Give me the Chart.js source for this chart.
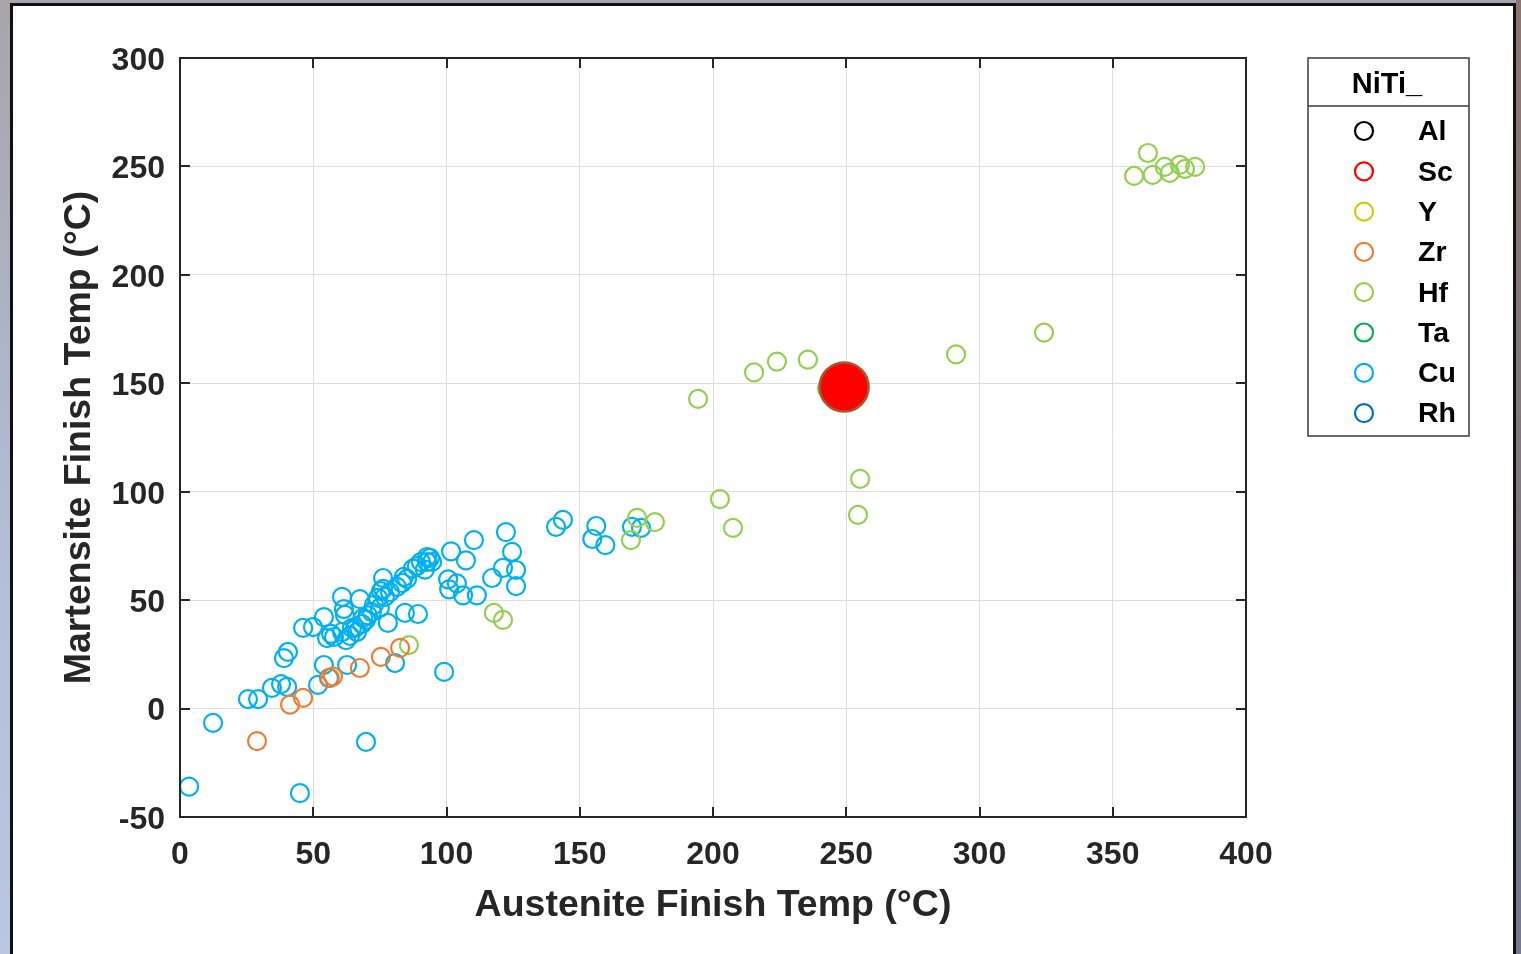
<!DOCTYPE html>
<html>
<head>
<meta charset="utf-8">
<title>NiTi transformation temperatures</title>
<script src="https://cdn.jsdelivr.net/npm/chart.js@4.4.1/dist/chart.umd.min.js"></script>
<style>
    html, body {
        margin: 0;
        padding: 0;
        width: 1521px;
        height: 954px;
        overflow: hidden;
    }
    body {
        position: relative;
        background: linear-gradient(to bottom, #a7a4ab 0%, #b2bfd9 60%, #b9c7e2 100%);
    }
    .edge-right {
        position: absolute;
        left: 1516px;
        top: 0;
        width: 5px;
        height: 954px;
        background: linear-gradient(to bottom, #8b7771 0%, #757a8c 100%);
    }
    .panel {
        position: absolute;
        left: 10px;
        top: 3px;
        width: 1506px;
        height: 960px;
        box-sizing: border-box;
        background: #fff;
        border: 3px solid #111;
    }
    #myChart {
        position: absolute;
        left: 0;
        top: 0;
    }
</style>
</head>
<body>
<div class="edge-right"></div>
<div class="panel"></div>
<canvas id="myChart" width="1521" height="954"></canvas>

<script>
    /**
     * Data
     *
     * - Austenite finish (Af) / martensite finish (Mf) per alloy, in °C
     * - Axis ticks
     */

    var seriesNames = ['Al', 'Sc', 'Y', 'Zr', 'Hf', 'Ta', 'Cu', 'Rh'];

    var alAf = [];
    var alMf = [];

    var scAf = [249.2];
    var scMf = [148.3];

    var yAf = [];
    var yMf = [];

    var zrAf = [28.9, 41.3, 46.2, 56.2, 57.4, 67.5, 75.4, 82.6];
    var zrMf = [-15, 1.8, 4.9, 14.1, 14.8, 18.7, 23.8, 28];

    var hfAf = [85.9, 117.8, 121.2, 169.2, 171.5, 178.2, 194.4, 202.6, 207.5, 215.4, 224, 235.6, 242.8,
        254.4, 255.2, 291.2, 324.2, 358, 363.2, 365, 369.5, 371.4, 375.2, 377.1, 380.9];
    var hfMf = [29.3, 44.1, 40.9, 77.7, 87.9, 86, 142.8, 96.6, 83.3, 155, 160, 160.9, 147.5,
        89.3, 105.9, 163.3, 173.4, 245.6, 256.2, 246.1, 249.8, 247, 250.7, 248.9, 249.8];

    var taAf = [];
    var taMf = [];

    var cuAf = [3.4, 12.4, 45, 69.8, 25.5, 29.3, 34.5, 37.9, 40.2, 39, 40.5, 46.2, 49.9, 54, 55.2, 56.7,
        57.8, 60.8, 61.5, 61.9, 60.8, 62.3, 63.8, 65.7, 66.4, 67.5, 68.3, 69.8, 72, 72.8, 74.3, 75,
        75.4, 76.2, 76.2, 76.9, 78, 81.4, 83.3, 84, 85.2, 84.4, 89.3, 88.9, 90.4, 91.9, 92.7, 93.8,
        94.6, 54, 55.9, 51.8, 62.7, 80.7, 99.1, 101.7, 100.6, 101, 103.9, 106.2, 107.3, 110.3, 111.4,
        117.1, 121.2, 122.3, 124.6, 126.1, 126.1, 141.1, 143.7, 156.2, 154.7, 159.6, 169.6, 173,
        64.5, 68.7, 78.8, 70.5, 87.4, 92.7];
    var cuMf = [-36, -6.6, -39, -15.4, 4.4, 4.4, 9.5, 11.3, 10, 23.3, 26.1, 37.2, 37.6, 42.2, 32.5, 34.4,
        33, 51.5, 45.9, 43.2, 35.3, 31.6, 33.5, 37.2, 35.3, 50.5, 39, 40.9, 44.5, 47.8, 51, 46.4,
        54.2, 60.2, 55.2, 51.5, 39.5, 56.1, 57.9, 60.7, 59.8, 44.1, 43.6, 65.7, 67.6, 64.1, 67.6, 69.5,
        67.6, 20.1, 14.1, 10.9, 20.1, 21, 16.9, 72.5, 59.6, 55, 57.7, 52.2, 68.3, 77.7, 52.2,
        60.2, 64.9, 81.4, 72.3, 63.9, 56.5, 83.8, 87, 84.2, 78.2, 75.4, 83.8, 83.3,
        37.2, 41.8, 53.7, 43, 64.5, 69.9];

    var rhAf = [];
    var rhMf = [];

    var xTicks = [0, 50, 100, 150, 200, 250, 300, 350, 400];
    var yTicks = [-50, 0, 50, 100, 150, 200, 250, 300];

    /**
     * Styles
     */

    var FONT = '"Liberation Sans", Arial, Helvetica, sans-serif';
    var INK = '#262626';

    var seriesColors = {
        Al: '#000000',
        Sc: '#ff0000',
        Y: '#d5c900',
        Zr: '#ed7d31',
        Hf: '#92d050',
        Ta: '#00b050',
        Cu: '#00b0f0',
        Rh: '#0070c0'
    };

    function toPoints(xs, ys) {
        var pts = [];
        for (var i = 0; i < xs.length; i++) {
            pts.push({x: xs[i], y: ys[i]});
        }
        return pts;
    }

    function ringSet(name, xs, ys) {
        return {
            label: name,
            data: toPoints(xs, ys),
            pointStyle: 'circle',
            pointRadius: 9,
            borderWidth: 2.2,
            borderColor: seriesColors[name],
            backgroundColor: 'rgba(0,0,0,0)'
        };
    }

    var sets = [
        ringSet('Al', alAf, alMf),
        {
            label: 'Sc',
            data: toPoints(scAf, scMf),
            pointStyle: 'circle',
            pointRadius: 24.5,
            borderWidth: 2.5,
            borderColor: '#a8582a',
            backgroundColor: seriesColors.Sc,
            legendColor: seriesColors.Sc
        },
        ringSet('Y', yAf, yMf),
        ringSet('Zr', zrAf, zrMf),
        ringSet('Hf', hfAf, hfMf),
        ringSet('Ta', taAf, taMf),
        ringSet('Cu', cuAf, cuMf),
        ringSet('Rh', rhAf, rhMf)
    ];

    /**
     * Axes box with inward tick marks on all four sides
     */

    var boxPlugin = {
        id: 'axesBox',
        afterDatasetsDraw: function (chart) {
            var ctx = chart.ctx;
            var a = chart.chartArea;
            var xs = chart.scales.x;
            var ys = chart.scales.y;
            var len = 10;

            ctx.save();
            ctx.strokeStyle = INK;
            ctx.lineWidth = 2;
            ctx.strokeRect(a.left, a.top, a.right - a.left, a.bottom - a.top);

            ctx.beginPath();
            xTicks.forEach(function (v) {
                var px = Math.round(xs.getPixelForValue(v));
                ctx.moveTo(px, a.bottom);
                ctx.lineTo(px, a.bottom - len);
                ctx.moveTo(px, a.top);
                ctx.lineTo(px, a.top + len);
            });
            yTicks.forEach(function (v) {
                var py = Math.round(ys.getPixelForValue(v));
                ctx.moveTo(a.left, py);
                ctx.lineTo(a.left + len, py);
                ctx.moveTo(a.right, py);
                ctx.lineTo(a.right - len, py);
            });
            ctx.stroke();
            ctx.restore();
        }
    };

    /**
     * Boxed legend with a title row
     */

    var legendPlugin = {
        id: 'boxLegend',
        afterDraw: function (chart) {
            var ctx = chart.ctx;
            var left = 1308, top = 58, right = 1469, bottom = 436;
            var rowTop = 131, rowStep = 40.3;

            ctx.save();
            ctx.fillStyle = '#ffffff';
            ctx.fillRect(left, top, right - left, bottom - top);
            ctx.strokeStyle = '#3a3a3a';
            ctx.lineWidth = 1.5;
            ctx.strokeRect(left, top, right - left, bottom - top);

            ctx.beginPath();
            ctx.moveTo(left, 106);
            ctx.lineTo(right, 106);
            ctx.stroke();

            ctx.fillStyle = '#000';
            ctx.font = 'bold 29px ' + FONT;
            ctx.textAlign = 'center';
            ctx.textBaseline = 'middle';
            ctx.fillText('NiTi_', 1387, 85);

            ctx.textAlign = 'left';
            ctx.font = 'bold 28.5px ' + FONT;
            chart.data.datasets.forEach(function (ds, i) {
                var cy = rowTop + i * rowStep;
                ctx.beginPath();
                ctx.arc(1364, cy, 9, 0, Math.PI * 2);
                ctx.strokeStyle = ds.legendColor || ds.borderColor;
                ctx.lineWidth = 2.2;
                ctx.stroke();
                ctx.fillStyle = '#000';
                ctx.fillText(ds.label, 1418, cy + 1.5);
            });
            ctx.restore();
        }
    };

    /**
     * Chart.js
     */

    var ctx = document.getElementById('myChart').getContext('2d');
    var chart = new Chart(ctx, {
        type: 'scatter',
        data: {
            datasets: sets
        },
        options: {
            responsive: false,
            animation: false,
            devicePixelRatio: 1,
            events: [],
            layout: {
                padding: {left: 0, top: 58, right: 275, bottom: 0}
            },
            plugins: {
                legend: {display: false},
                tooltip: {enabled: false}
            },
            scales: {
                x: {
                    type: 'linear',
                    min: 0,
                    max: 400,
                    afterFit: function (scale) {
                        scale.height = 137;
                    },
                    afterBuildTicks: function (scale) {
                        scale.ticks = xTicks.map(function (v) { return {value: v}; });
                    },
                    border: {display: false},
                    grid: {color: '#dedede', lineWidth: 1, drawTicks: false},
                    ticks: {
                        padding: 19,
                        color: INK,
                        maxRotation: 0,
                        font: {family: FONT, size: 32, weight: 'bold'}
                    },
                    title: {
                        display: true,
                        text: 'Austenite Finish Temp (°C)',
                        color: INK,
                        padding: {top: 0, bottom: 26},
                        font: {family: FONT, size: 37.5, weight: 'bold'}
                    }
                },
                y: {
                    type: 'linear',
                    min: -50,
                    max: 300,
                    afterFit: function (scale) {
                        scale.width = 180;
                    },
                    afterBuildTicks: function (scale) {
                        scale.ticks = yTicks.map(function (v) { return {value: v}; });
                    },
                    border: {display: false},
                    grid: {color: '#dedede', lineWidth: 1, drawTicks: false},
                    ticks: {
                        padding: 15,
                        labelOffset: 3,
                        color: INK,
                        font: {family: FONT, size: 32, weight: 'bold'}
                    },
                    title: {
                        display: true,
                        text: 'Martensite Finish Temp (°C)',
                        color: INK,
                        padding: {top: 57, bottom: 0},
                        font: {family: FONT, size: 37.5, weight: 'bold'}
                    }
                }
            }
        },
        plugins: [boxPlugin, legendPlugin]
    });
</script>
</body>
</html>
